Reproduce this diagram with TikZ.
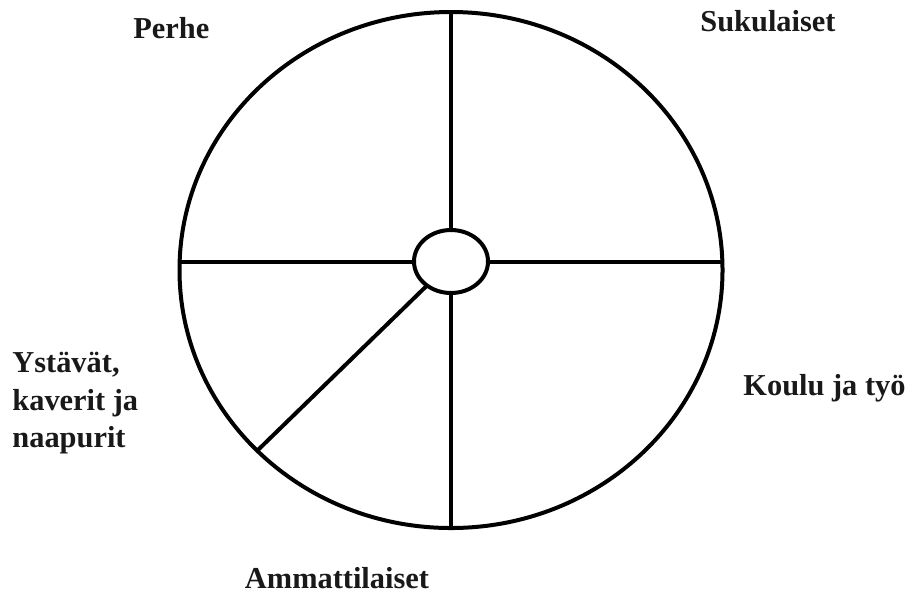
\documentclass[tikz,border=0pt]{standalone}
\usepackage{fontspec}
\setmainfont{Liberation Serif}
\usetikzlibrary{shapes.geometric}
\begin{document}
\begin{tikzpicture}[x=0.5pt,y=-0.5pt,
  ring/.style={draw=black,line width=2pt,ellipse,inner sep=0pt,outer sep=0pt},
  spoke/.style={draw=black,line width=2pt},
  lbl/.style={anchor=base west,inner sep=0pt,font=\fontsize{15.2}{18}\selectfont\bfseries,text=black!90}]
\useasboundingbox[fill=white] (0,0) rectangle (913,596);
\node[ring,minimum width=271.5pt,minimum height=258pt] (wheel) at (451,270) {};
\node[ring,minimum width=37pt,minimum height=31.5pt,fill=white] (hub) at (451,261.5) {};
\draw[spoke] (hub.north) -- (wheel.north);
\draw[spoke] (hub.south) -- (wheel.south);
\draw[spoke] (hub.west) -- (hub.west -| wheel.west);
\draw[spoke] (hub.east) -- (hub.east -| wheel.east);
\draw[spoke] (hub.225) -- (wheel.223);
\node[lbl] (perhe) at (133,38) {Perhe};
\node[lbl] (suku) at (700,31) {Sukulaiset};
\node[lbl] (y1) at (12,372) {Ystävät,};
\node[lbl] (y2) at (12,410) {kaverit ja};
\node[lbl] (y3) at (12,447) {naapurit};
\node[lbl] (koulu) at (743,395) {Koulu ja työ};
\node[lbl,anchor=base] (ammatti) at (337,588) {Ammattilaiset};
\end{tikzpicture}
\end{document}
